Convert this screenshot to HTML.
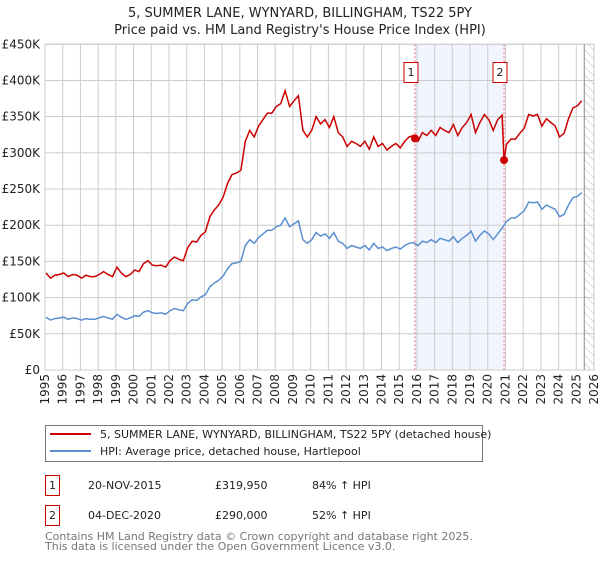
<!DOCTYPE html>
<html><head><meta charset="utf-8"><style>
body{margin:0;background:#fff;font-family:"DejaVu Sans","Liberation Sans",sans-serif;}
svg text{font-family:"DejaVu Sans","Liberation Sans",sans-serif;}
</style></head><body>
<svg id="chart" width="600" height="560" viewBox="0 0 600 560" xmlns="http://www.w3.org/2000/svg">
<text x="300" y="17" font-size="13" text-anchor="middle" fill="#222">5, SUMMER LANE, WYNYARD, BILLINGHAM, TS22 5PY</text>
<text x="300" y="34" font-size="13" text-anchor="middle" fill="#222">Price paid vs. HM Land Registry's House Price Index (HPI)</text>
<defs><pattern id="hatch" width="6" height="6" patternUnits="userSpaceOnUse" patternTransform="rotate(-45)"><line x1="0" y1="0" x2="0" y2="6" stroke="#bbb" stroke-width="1"/></pattern></defs>
<g id="plot"></g>
<g>
<rect x="45.5" y="425.5" width="437" height="36" fill="#fff" stroke="#777"/>
<line x1="50" y1="434" x2="91" y2="434" stroke="#cc0000" stroke-width="2"/>
<text x="100" y="438" font-size="11" fill="#222">5, SUMMER LANE, WYNYARD, BILLINGHAM, TS22 5PY (detached house)</text>
<line x1="50" y1="451" x2="91" y2="451" stroke="#5b8fd0" stroke-width="2"/>
<text x="100" y="455" font-size="11" fill="#222">HPI: Average price, detached house, Hartlepool</text>
</g>
<g font-size="11" fill="#222">
<rect x="45.5" y="475.5" width="14" height="20" fill="#fff" stroke="#cc0000"/>
<text x="52.5" y="489" text-anchor="middle">1</text>
<text x="88" y="489">20-NOV-2015</text><text x="215" y="489">£319,950</text><text x="312" y="489">84% ↑ HPI</text>
<rect x="45.5" y="505.5" width="14" height="20" fill="#fff" stroke="#cc0000"/>
<text x="52.5" y="519" text-anchor="middle">2</text>
<text x="88" y="519">04-DEC-2020</text><text x="215" y="519">£290,000</text><text x="312" y="519">52% ↑ HPI</text>
</g>
<text x="45" y="540" font-size="11" fill="#777">Contains HM Land Registry data © Crown copyright and database right 2025.</text>
<text x="45" y="550" font-size="11" fill="#777">This data is licensed under the Open Government Licence v3.0.</text>
</svg>
<script>
const yTicks=[0,50,100,150,200,250,300,350,400,450];
const yTickLabels=["£0","£50K","£100K","£150K","£200K","£250K","£300K","£350K","£400K","£450K"];
const years=[1995,1996,1997,1998,1999,2000,2001,2002,2003,2004,2005,2006,2007,2008,2009,2010,2011,2012,2013,2014,2015,2016,2017,2018,2019,2020,2021,2022,2023,2024,2025,2026];
const startYear=1995;
const hpi=[73,69,71,72, 73,70,72,71, 69,71,70,70, 72,74,72,70, 77,73,70,72, 75,74,80,82, 79,78,79,77, 82,85,83,82, 92,97,96,101, 104,115,120,124, 130,140,147,148, 150,172,180,175, 183,188,193,193, 198,200,210,198, 202,206,180,175, 180,190,185,188, 182,190,178,175, 168,172,170,168, 172,166,175,168, 170,165,168,170, 167,172,175,176, 172,178,176,180, 176,182,180,178, 184,176,182,186, 192,178,186,192, 188,180,188,196, 205,210,210,215, 220,232,231,232, 222,228,225,222, 212,215,228,238, 240,245];
const price=[134,127,131,132, 134,129,132,131, 127,131,129,129, 132,136,132,129, 142,134,129,132, 138,136,147,151, 145,144,145,142, 151,156,153,151, 169,178,177,186, 191,212,221,228, 239,258,270,272, 276,316,331,322, 337,346,355,355, 364,368,386,364, 372,379,331,322, 331,350,340,346, 335,350,328,322, 309,316,313,309, 316,305,322,309, 313,304,309,313, 307,316,322,324, 316,328,324,331, 324,335,331,328, 339,324,335,342, 353,328,342,353, 346,331,346,352, 312,319,319,327, 334,353,351,353, 337,347,342,337, 322,327,347,362, 365,372];
const saleDates=[2015.89,2020.92];
const salePrices=[319.95,290];
const saleLabels=["1","2"];
const x0=45,x1=594,y0=370,y1=44.3,hatchStart=2025.45;
const X=t=>x0+(t-1995)*(x1-x0)/31;
const Y=v=>y0-v*(y0-y1)/450;
const NS="http://www.w3.org/2000/svg";
const g=document.getElementById('plot');
function mk(tag,attrs,parent){const e=document.createElementNS(NS,tag);for(const k in attrs)e.setAttribute(k,attrs[k]);(parent||g).appendChild(e);return e;}
let r=mk('rect',{x:X(saleDates[0]),y:y1,width:X(saleDates[1])-X(saleDates[0]),height:y0-y1,fill:'#eef3fc',opacity:0.8});


yTicks.forEach((v,i)=>{
 const l=mk('line',{x1:x0,x2:x1,y1:Y(v),y2:Y(v),stroke:'#ccc','stroke-width':1});
 
 
 const t=mk('text',{x:40,y:Y(v)+4,'font-size':12,'text-anchor':'end',fill:'#222'});
 t.textContent=yTickLabels[i];
 
 
});
years.forEach(yr=>{
 const l=mk('line',{x1:X(yr),x2:X(yr),y1:y1,y2:y0,stroke:'#ccc','stroke-width':1});
 
 
 const t=mk('text',{x:0,y:0,'font-size':12,'text-anchor':'end',fill:'#222',transform:`translate(${X(yr)+4},${y0+4}) rotate(-90)`});
 t.textContent=yr;
 
 
});
const h=mk('rect',{x:X(hatchStart),y:y1,width:x1-X(hatchStart),height:y0-y1,fill:'url(#hatch)'});


const hl=mk('line',{x1:X(hatchStart),x2:X(hatchStart),y1:y1,y2:y0,stroke:'#888'});


const fr=mk('rect',{x:x0,y:y1,width:x1-x0,height:y0-y1,fill:'none',stroke:'#ccc'});


saleDates.forEach((d,i)=>{
 const l=mk('line',{x1:X(d),x2:X(d),y1:y1,y2:y0,stroke:'#f07070','stroke-dasharray':'2,2'});
 
 
});
const tq=i=>startYear+0.06+i*0.25;
let hp=hpi.map((v,i)=>`${X(tq(i)).toFixed(1)},${Y(v).toFixed(1)}`).join(' ');
const hpiLine=mk('polyline',{points:hp,fill:'none',stroke:'#5b8fd0','stroke-width':1.5});


let pts=price.map((v,i)=>[tq(i),v]);
saleDates.forEach((d,i)=>pts.push([d,salePrices[i]]));
pts.sort((a,b)=>a[0]-b[0]);
const priceLine=mk('polyline',{points:pts.map(p=>`${X(p[0]).toFixed(1)},${Y(p[1]).toFixed(1)}`).join(' '),fill:'none',stroke:'#cc0000','stroke-width':1.5});


saleDates.forEach((d,i)=>{
 const c=mk('circle',{cx:X(d),cy:Y(salePrices[i]),r:4,fill:'#cc0000'});
 
 
 const b=mk('rect',{x:X(d)-11,y:62.5,width:14,height:20,fill:'#fff',stroke:'#cc0000'});
 
 
 const t=mk('text',{x:X(d)-4,y:76,'font-size':11,'text-anchor':'middle',fill:'#222'});
 t.textContent=saleLabels[i];
 
 
});
</script>
</body></html>
